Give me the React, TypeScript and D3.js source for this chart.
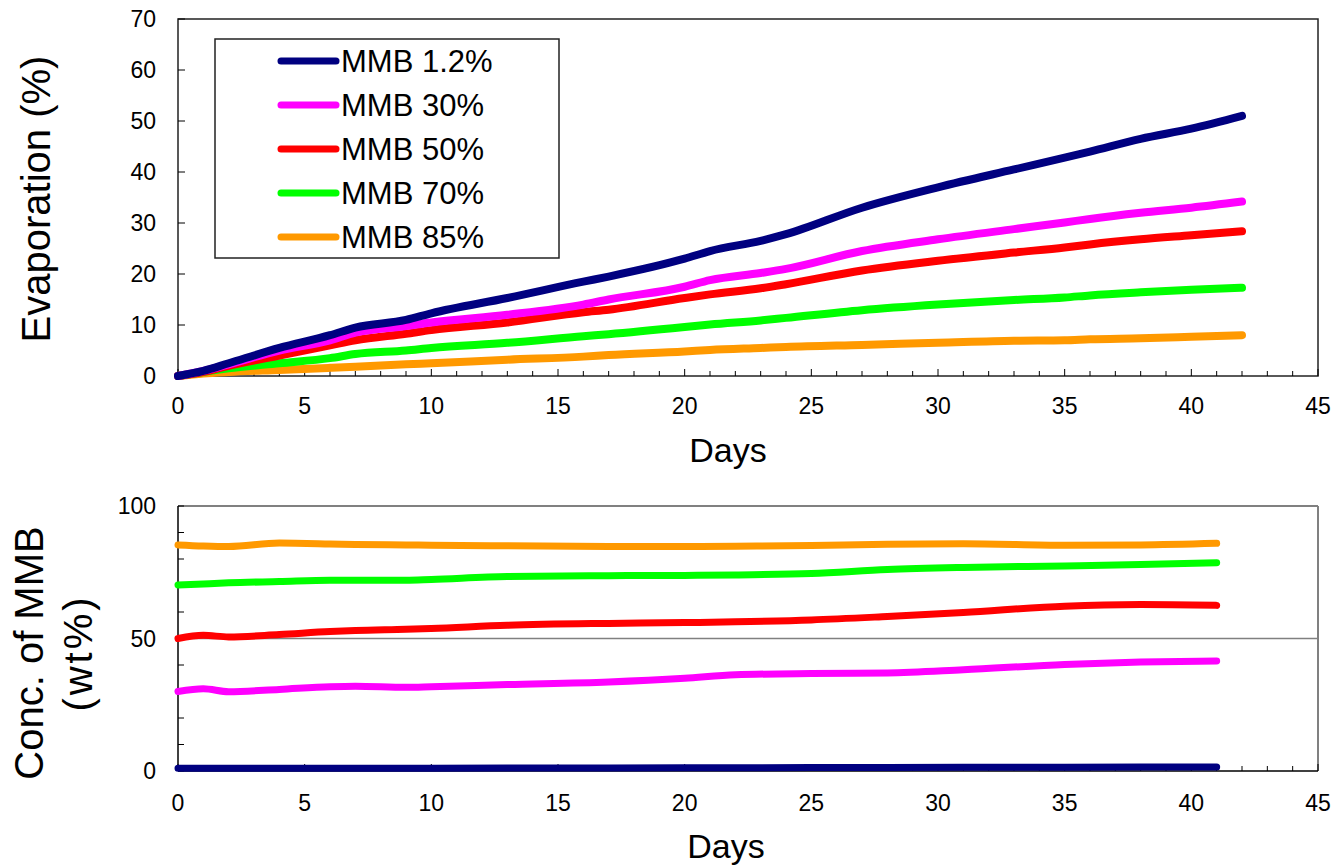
import React from 'react';
import * as d3 from 'd3';

// evaporation chart (top)
const evapDays = [0, 1, 2, 4, 6, 7, 9, 10, 13, 16, 17, 20, 21, 23, 24, 27, 30, 33, 35, 36, 38, 40, 42];
const evap12 = [0, 1, 2.5, 5.5, 8, 9.5, 11, 12.3, 15.3, 18.5, 19.5, 23, 24.5, 26.5, 27.8, 33, 37, 40.5, 42.8, 44, 46.5, 48.5, 51];
const evap30 = [0, 1, 2.3, 5, 7, 8.5, 9.8, 10.5, 12, 14, 15, 17.5, 18.8, 20.2, 21, 24.5, 26.8, 28.8, 30.1, 30.8, 32, 33, 34.2];
const evap50 = [0, 0.8, 2, 4, 6, 7, 8.3, 9, 10.5, 12.5, 13, 15.3, 16, 17.2, 18, 20.7, 22.6, 24.2, 25.2, 25.8, 26.8, 27.6, 28.4];
const evap70 = [0, 0.8, 1.5, 2.5, 3.5, 4.3, 5, 5.5, 6.5, 7.8, 8.2, 9.6, 10.1, 10.9, 11.4, 12.9, 14, 14.9, 15.4, 15.8, 16.4, 16.9, 17.3];
const evap85 = [0, 0.5, 0.8, 1.2, 1.6, 1.8, 2.3, 2.5, 3.2, 3.8, 4.1, 4.8, 5.1, 5.5, 5.7, 6.1, 6.5, 6.9, 7.0, 7.2, 7.4, 7.7, 8.0];

// concentration chart (bottom)
const concDays = [0, 1, 2, 4, 6, 7, 9, 10, 13, 17, 20, 22, 25, 28, 31, 35, 38, 41];
const conc12 = [1.0, 1.0, 1.0, 1.0, 1.0, 1.0, 1.0, 1.0, 1.1, 1.1, 1.2, 1.2, 1.3, 1.3, 1.4, 1.4, 1.5, 1.5];
const conc30 = [30.0, 31.0, 29.9, 30.8, 31.8, 32.0, 31.6, 31.8, 32.6, 33.6, 35.0, 36.3, 36.8, 37.0, 38.2, 40.2, 41.1, 41.5];
const conc50 = [50.0, 51.2, 50.6, 51.5, 52.6, 53.0, 53.5, 53.8, 55.0, 55.7, 56.0, 56.3, 57.0, 58.3, 59.8, 62.2, 62.8, 62.5];
const conc70 = [70.2, 70.6, 71.0, 71.5, 72.0, 72.0, 72.0, 72.3, 73.4, 73.7, 73.8, 74.0, 74.5, 76.0, 76.8, 77.4, 77.9, 78.6];
const conc85 = [85.3, 84.9, 84.7, 86.0, 85.7, 85.5, 85.3, 85.2, 85.0, 84.7, 84.7, 84.8, 85.1, 85.6, 85.8, 85.2, 85.3, 85.9];

const seriesNames = ['MMB 1.2%', 'MMB 30%', 'MMB 50%', 'MMB 70%', 'MMB 85%'];
const seriesColors = ['#000080', '#ff00ff', '#ff0000', '#00ff00', '#ff9900'];
const evapSeries = [evap12, evap30, evap50, evap70, evap85];
const concSeries = [conc12, conc30, conc50, conc70, conc85];

const xTickLabels = [0, 5, 10, 15, 20, 25, 30, 35, 40, 45];
const evapTickLabels = [0, 10, 20, 30, 40, 50, 60, 70];
const concTickLabels = [0, 50, 100];

const FONT = '"Liberation Sans", Arial, sans-serif';

const App = () => {
  const W = 1334;
  const H = 867;
  const left = 178;
  const right = 1318;

  const x = d3.scaleLinear().domain([0, 45]).range([left, right]);
  const yTop = d3.scaleLinear().domain([0, 70]).range([376, 19]);
  const yBot = d3.scaleLinear().domain([0, 100]).range([771, 506]);

  const mkLine = (days: number[], ys: d3.ScaleLinear<number, number>) =>
    d3.line<number>()
      .x((_, i) => x(days[i]))
      .y(d => ys(d))
      .curve(d3.curveMonotoneX);

  const topLine = mkLine(evapDays, yTop);
  const botLine = mkLine(concDays, yBot);

  const dayTicks = d3.range(0, 46);

  const xTicks = (y0: number) =>
    dayTicks.map(d => (
      <line key={d} x1={x(d)} x2={x(d)} y1={y0} y2={y0 - (d % 5 === 0 ? 7 : 5)} stroke="#000" strokeWidth={1} />
    ));

  return (
    <svg width={W} height={H} style={{ position: 'absolute', left: 0, top: 0 }} fontFamily={FONT}>
      <rect width={W} height={H} fill="#fff" />

      {/* ---------- top chart ---------- */}
      <rect x={left} y={yTop(70)} width={right - left} height={yTop(0) - yTop(70)} fill="none" stroke="#222" strokeWidth={1.5} />
      {xTicks(yTop(0))}
      {evapTickLabels.map(v => (
        <g key={v}>
          <line x1={left} x2={left + 7} y1={yTop(v)} y2={yTop(v)} stroke="#000" />
          <text x={left - 22} y={yTop(v)} dy="0.36em" textAnchor="end" fontSize={23}>{v}</text>
        </g>
      ))}
      {xTickLabels.map(v => (
        <text key={v} x={x(v)} y={414} textAnchor="middle" fontSize={23}>{v}</text>
      ))}
      {evapSeries.map((s, i) => (
        <path key={i} d={topLine(s) || ''} fill="none" stroke={seriesColors[i]} strokeWidth={8}
          strokeLinecap="round" strokeLinejoin="round" />
      )).reverse()}
      <text x={728} y={462} textAnchor="middle" fontSize={34}>Days</text>
      <text transform="translate(50,199) rotate(-90)" textAnchor="middle" fontSize={40}>Evaporation (%)</text>

      {/* legend */}
      <rect x={215} y={39} width={344} height={219} fill="#fff" stroke="#222" strokeWidth={1.5} />
      {seriesNames.map((n, i) => {
        const ly = 61 + i * 44;
        return (
          <g key={n}>
            <line x1={281} x2={336} y1={ly} y2={ly} stroke={seriesColors[i]} strokeWidth={7} strokeLinecap="round" />
            <text x={341} y={ly} dy="0.36em" fontSize={31}>{n}</text>
          </g>
        );
      })}

      {/* ---------- bottom chart ---------- */}
      <line x1={left} x2={right} y1={yBot(50)} y2={yBot(50)} stroke="#808080" strokeWidth={1.5} />
      <line x1={left} x2={right} y1={yBot(100)} y2={yBot(100)} stroke="#808080" strokeWidth={2} />
      <line x1={right} x2={right} y1={yBot(100)} y2={yBot(0)} stroke="#808080" strokeWidth={2} />
      <line x1={left} x2={right} y1={yBot(0)} y2={yBot(0)} stroke="#000" strokeWidth={1.5} />
      <line x1={left} x2={left} y1={yBot(100)} y2={yBot(0)} stroke="#000" strokeWidth={1.5} />
      {xTicks(yBot(0))}
      {d3.range(0, 101, 10).map(v => (
        <line key={v} x1={left} x2={left + 6} y1={yBot(v)} y2={yBot(v)} stroke="#000" />
      ))}
      {concTickLabels.map(v => (
        <text key={v} x={left - 22} y={yBot(v)} dy="0.36em" textAnchor="end" fontSize={23}>{v}</text>
      ))}
      {xTickLabels.map(v => (
        <text key={v} x={x(v)} y={811} textAnchor="middle" fontSize={23}>{v}</text>
      ))}
      {concSeries.map((s, i) => (
        <path key={i} d={botLine(s) || ''} fill="none" stroke={seriesColors[i]} strokeWidth={7}
          strokeLinecap="round" strokeLinejoin="round" />
      ))}
      <text x={726} y={858} textAnchor="middle" fontSize={34}>Days</text>
      <text transform="translate(43,653) rotate(-90)" textAnchor="middle" fontSize={40}>Conc. of MMB</text>
      <text transform="translate(92,653) rotate(-90)" textAnchor="middle" fontSize={40} letterSpacing={3}>(wt%)</text>
    </svg>
  );
};

export default App;
